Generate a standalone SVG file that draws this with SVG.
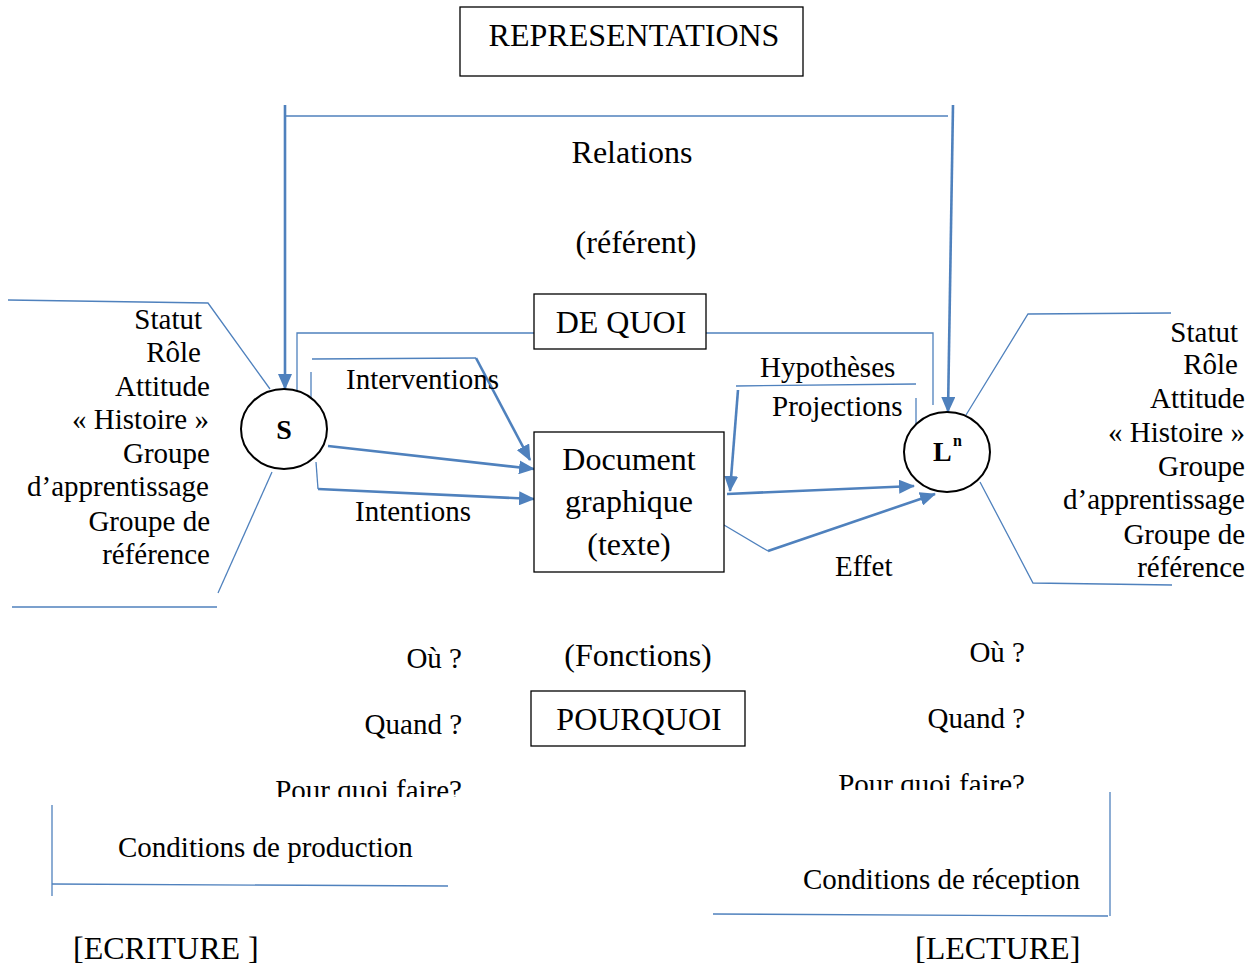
<svg xmlns="http://www.w3.org/2000/svg" width="1257" height="968" viewBox="0 0 1257 968">
<style>
text{font-family:"Liberation Serif","Times New Roman",serif;font-size:29px;fill:#000}
.h{font-size:32px}
.e{text-anchor:end}
.m{text-anchor:middle}
.box{fill:#fff;stroke:#000;stroke-width:1.3}
.th{fill:none;stroke:#4f81bd;stroke-width:1.3}
.tk{fill:none;stroke:#4f81bd;stroke-width:2.6}
</style>
<defs>
<marker id="ah" markerUnits="userSpaceOnUse" markerWidth="16" markerHeight="14" refX="15" refY="7" orient="auto">
<path d="M0,0 L16,7 L0,14 Z" fill="#4f81bd"/>
</marker>
<clipPath id="cl"><rect x="0" y="0" width="700" height="797"/></clipPath>
<clipPath id="cr"><rect x="700" y="0" width="557" height="790"/></clipPath>
</defs>
<rect width="1257" height="968" fill="#fff"/>
<g id="connectors">
<path class="tk" d="M285,105 L285,389" marker-end="url(#ah)"/>
<path class="th" d="M285,116 L948,116"/>
<path class="tk" d="M953,105 L948,412" marker-end="url(#ah)"/>
<path class="th" d="M297,403 L297,333 L534,333"/>
<path class="th" d="M706,333 L933,333 L933,405"/>
<path class="th" d="M311,372 L311,411"/>
<path class="th" d="M312,359 L476,358"/>
<path class="tk" d="M476,358 L530,460" marker-end="url(#ah)"/>
<path class="tk" d="M328,446 L534,469" marker-end="url(#ah)"/>
<path class="th" d="M316,462 L318,489"/>
<path class="tk" d="M318,489 L534,499" marker-end="url(#ah)"/>
<path class="th" d="M736,386 L916,384"/>
<path class="tk" d="M738,390 L730,491" marker-end="url(#ah)"/>
<path class="th" d="M916,398 L916,428"/>
<path class="tk" d="M727,494 L914,486" marker-end="url(#ah)"/>
<path class="th" d="M724,525 L768,551"/>
<path class="tk" d="M768,551 L935,494" marker-end="url(#ah)"/>
<path class="th" d="M8,300 L208,303 L270,389"/>
<path class="th" d="M272,472 L218,593"/>
<path class="th" d="M12,607 L217,607"/>
<path class="th" d="M966,415 L1028,314 L1171,313"/>
<path class="th" d="M980,482 L1033,583 L1172,585"/>
<path class="th" d="M52,805 L52,896"/>
<path class="th" d="M52,884 L448,886"/>
<path class="th" d="M1110,792 L1110,916"/>
<path class="th" d="M713,914 L1108,916"/>
</g>
<g id="representations">
<rect class="box" x="460" y="7" width="343" height="69"/>
<text class="m h" x="634" y="46">REPRESENTATIONS</text>
</g>
<g id="relations">
<text class="m h" x="632" y="163">Relations</text>
<text class="m h" x="636" y="253">(référent)</text>
</g>
<g id="dequoi">
<rect class="box" x="534" y="294" width="172" height="55"/>
<text class="m h" x="621" y="333">DE QUOI</text>
</g>
<g id="document">
<rect class="box" x="534" y="432" width="190" height="140"/>
<text class="m h" x="629" y="470">Document</text>
<text class="m h" x="629" y="512">graphique</text>
<text class="m h" x="629" y="555">(texte)</text>
</g>
<g id="labels">
<text x="346" y="389">Interventions</text>
<text x="355" y="521">Intentions</text>
<text x="760" y="377">Hypothèses</text>
<text x="772" y="416">Projections</text>
<text x="835" y="576">Effet</text>
</g>
<g id="s-node">
<ellipse cx="284" cy="429" rx="43" ry="40" fill="#fff" stroke="#000" stroke-width="2"/>
<text class="m" x="284" y="439" style="font-weight:bold;font-size:28px">S</text>
</g>
<g id="l-node">
<ellipse cx="947" cy="452" rx="43" ry="40" fill="#fff" stroke="#000" stroke-width="2"/>
<text x="933" y="461" style="font-weight:bold;font-size:28px">L</text>
<text x="953" y="446" style="font-weight:bold;font-size:16px">n</text>
</g>
<g id="left-list">
<text class="e" x="202" y="329">Statut</text>
<text class="e" x="201" y="362">Rôle</text>
<text class="e" x="210" y="396">Attitude</text>
<text class="e" x="209" y="429">« Histoire »</text>
<text class="e" x="210" y="463">Groupe</text>
<text class="e" x="209" y="496">d’apprentissage</text>
<text class="e" x="210" y="531">Groupe de</text>
<text class="e" x="210" y="564">référence</text>
</g>
<g id="right-list">
<text class="e" x="1238" y="342">Statut</text>
<text class="e" x="1238" y="374">Rôle</text>
<text class="e" x="1245" y="408">Attitude</text>
<text class="e" x="1245" y="442">« Histoire »</text>
<text class="e" x="1245" y="476">Groupe</text>
<text class="e" x="1245" y="509">d’apprentissage</text>
<text class="e" x="1245" y="544">Groupe de</text>
<text class="e" x="1245" y="577">référence</text>
</g>
<g id="left-questions">
<text class="e" x="462" y="668">Où ?</text>
<text class="e" x="462" y="734">Quand ?</text>
<text class="e" x="462" y="800" clip-path="url(#cl)">Pour quoi faire?</text>
</g>
<g id="fonctions">
<text class="m h" x="638" y="666">(Fonctions)</text>
</g>
<g id="pourquoi">
<rect class="box" x="531" y="691" width="214" height="55"/>
<text class="m h" x="639" y="730">POURQUOI</text>
</g>
<g id="right-questions">
<text class="e" x="1025" y="662">Où ?</text>
<text class="e" x="1025" y="728">Quand ?</text>
<text class="e" x="1025" y="794" clip-path="url(#cr)">Pour quoi faire?</text>
</g>
<g id="production">
<text x="118" y="857">Conditions de production</text>
<text class="h" x="73" y="959">[ECRITURE ]</text>
</g>
<g id="reception">
<text x="803" y="889">Conditions de réception</text>
<text class="h" x="915" y="959">[LECTURE]</text>
</g>
</svg>
